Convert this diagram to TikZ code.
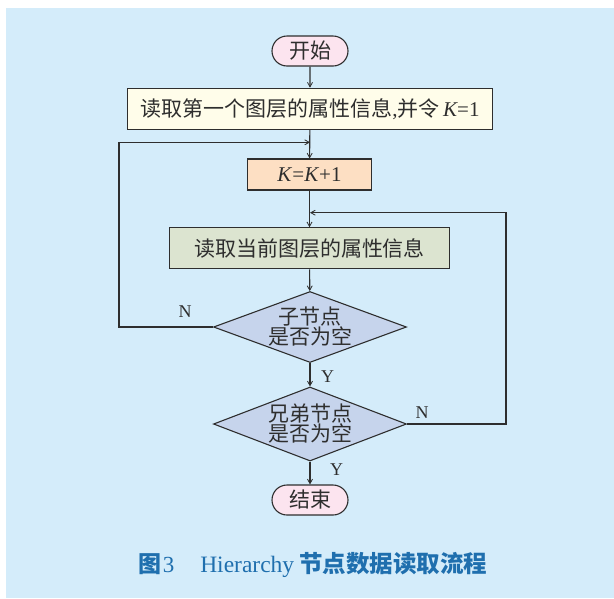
\documentclass[tikz,border=0pt]{standalone}
\usepackage{fontspec}
\setmainfont{Liberation Serif}
\newfontfamily\cjk{Noto Sans CJK SC}
\usetikzlibrary{shapes.geometric,shapes.misc,arrows.meta}
\definecolor{bgblue}{HTML}{D4ECFA}
\definecolor{termpink}{HTML}{FCE4EF}
\definecolor{creamfill}{HTML}{FFFDEA}
\definecolor{peachfill}{HTML}{FDDFC3}
\definecolor{greenfill}{HTML}{DCE4D0}
\definecolor{diafill}{HTML}{C6D4EC}
\definecolor{inkgray}{HTML}{2E2E2E}
\definecolor{capblue}{HTML}{1F6FAE}
\tikzset{
  base/.style={draw=inkgray, line width=1.1pt, text=inkgray, inner sep=0pt,
    font=\fontsize{21}{22}\selectfont\cjk},
  term/.style={base, rounded rectangle, fill=termpink, minimum width=76pt, minimum height=30pt},
  procbox/.style={base, rectangle, minimum height=41pt},
  decision/.style={base, diamond, fill=diafill, align=center, shape aspect=2.7,
    font=\fontsize{21}{20}\selectfont\cjk},
  flow/.style={draw=inkgray, line width=1.1pt, -{Straight Barb[length=4.5pt,width=5pt,line width=0.8pt]}},
  yn/.style={text=inkgray, font=\fontsize{18}{18}\selectfont, inner sep=0pt}
}
\begin{document}
\begin{tikzpicture}[x=1pt,y=-1pt]
\useasboundingbox (0,0) rectangle (614,598);
\fill[bgblue] (6,8) rectangle (614,598);

\node[term] (start) at (310,51) {开始};
\node[procbox, fill=creamfill, minimum width=365pt] (read1) at (310,108.7)
  {读取第一个图层的属性信息{\rmfamily,}并令\,{\rmfamily\itshape K}{\rmfamily =1}};
\node[procbox, fill=peachfill, minimum width=124pt, minimum height=31pt, font=\fontsize{21}{22}\selectfont] (inc) at (309.5,174.5)
  {\textit{K}=\textit{K}+1};
\node[procbox, fill=greenfill, minimum width=280pt] (read2) at (309.5,248.3)
  {读取当前图层的属性信息};
\node[decision, minimum width=193pt, minimum height=71pt] (child) at (310,327)
  {子节点\\是否为空};
\node[decision, minimum width=193pt, minimum height=74pt] (sib) at (310,424)
  {兄弟节点\\是否为空};
\node[term] (stop) at (310,500) {结束};

\coordinate (leftc) at (119,327);
\coordinate (lefttop) at (119,142.3);
\coordinate (join1) at (310,142.3);
\coordinate (rightc) at (506,424);
\coordinate (righttop) at (506,212.7);
\coordinate (join2) at (310,212.7);

\draw[flow] (start) -- (read1);
\draw[flow] (read1) -- (inc);
\draw[flow] (inc) -- (read2);
\draw[flow] (read2) -- (child);
\draw[flow] (child) -- (sib);
\draw[flow] (sib) -- (stop);
\draw[flow] (child.west) -- (leftc) -- (lefttop) -- (join1);
\draw[flow] (sib.east) -- (rightc) -- (righttop) -- (join2);

\node[yn] (n1) at (185,312) {N};
\node[yn] (y1) at (327.7,376.7) {Y};
\node[yn] (n2) at (422,413) {N};
\node[yn] (y2) at (336.7,470) {Y};

\node[text=capblue, inner sep=0pt] (cap) at (313,565)
  {{\fontsize{23}{24}\selectfont\cjk\bfseries 图}\hspace{1pt}{\fontsize{23}{24}\selectfont 3}\hspace{26pt}{\fontsize{23.5}{24}\selectfont Hierarchy}\hspace{5pt}{\fontsize{23.5}{24}\selectfont\cjk\bfseries 节点数据读取流程}};
\end{tikzpicture}
\end{document}
